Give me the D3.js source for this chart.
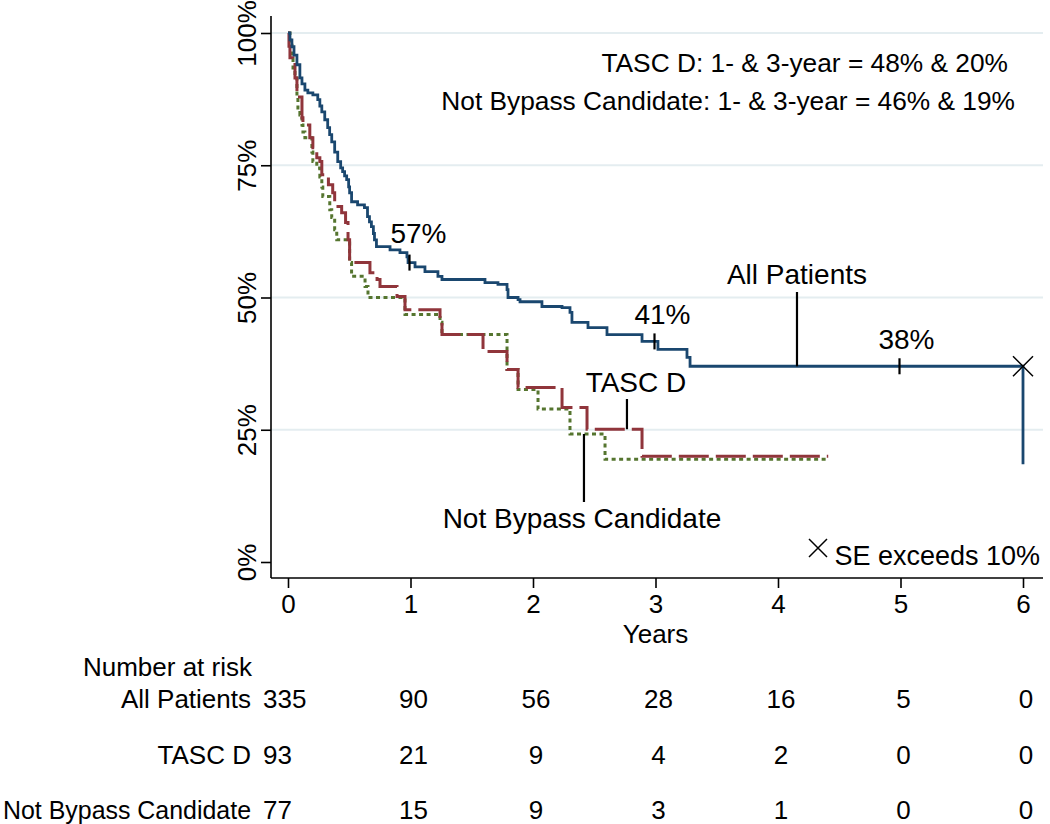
<!DOCTYPE html>
<html>
<head>
<meta charset="utf-8">
<script src="https://cdn.jsdelivr.net/npm/d3@7/dist/d3.min.js"></script>
<style>
  html, body { margin: 0; padding: 0; background: #fff; }
  svg { display: block; }
  text { font-family: "Liberation Sans", Arial, Helvetica, sans-serif; fill: #000; }
</style>
</head>
<body>
<svg id="chart" width="1050" height="824"></svg>
<script>
// ---------------- DATA ----------------
const yTicks = [0, 0.25, 0.5, 0.75, 1];
const yTickLabels = ["0%", "25%", "50%", "75%", "100%"];
const xTicks = [0, 1, 2, 3, 4, 5, 6];
const xTitle = "Years";

// All Patients: step times (years) and survival after each step
const allTimes = [0.016,0.032,0.049,0.073,0.097,0.114,0.138,0.162,0.203,0.243,0.260,0.276,0.300,0.324,0.340,0.357,0.381,0.406,0.430,0.446,0.462,0.479,0.495,0.503,0.519,0.568,0.624,0.649,0.665,0.681,0.697,0.706,0.722,0.833,0.914,0.971,0.980,1.037,1.118,1.224,1.257,1.608,1.714,1.788,1.796,1.878,1.894,2.073,2.237,2.302,2.318,2.449,2.604,2.890,3.020,3.257,3.282,6.0];
const allSurv  = [0.987,0.974,0.958,0.940,0.915,0.904,0.892,0.887,0.883,0.874,0.862,0.851,0.836,0.821,0.808,0.794,0.775,0.757,0.745,0.738,0.730,0.723,0.709,0.698,0.681,0.675,0.670,0.653,0.643,0.634,0.621,0.609,0.596,0.590,0.585,0.577,0.566,0.558,0.549,0.540,0.534,0.528,0.525,0.515,0.500,0.496,0.492,0.483,0.481,0.472,0.453,0.443,0.430,0.417,0.402,0.387,0.370,0.185];
const allEnd = 6.0;

// TASC D
const tascTimes = [0.008,0.016,0.041,0.057,0.073,0.081,0.114,0.122,0.178,0.203,0.235,0.260,0.276,0.330,0.365,0.381,0.438,0.470,0.490,0.503,0.669,0.727,0.751,0.890,0.955,1.241,1.257,1.592,1.788,1.878,2.237,2.441,2.890];
const tascSurv  = [0.975,0.953,0.945,0.915,0.889,0.879,0.840,0.826,0.802,0.783,0.764,0.757,0.732,0.713,0.698,0.672,0.660,0.642,0.609,0.566,0.547,0.534,0.521,0.502,0.477,0.453,0.430,0.398,0.364,0.330,0.292,0.251,0.200];
const tascEnd = 4.41;

// Not Bypass Candidate
const nbcTimes = [0.016,0.032,0.041,0.057,0.073,0.081,0.097,0.114,0.122,0.138,0.195,0.203,0.235,0.260,0.276,0.284,0.341,0.357,0.381,0.398,0.503,0.519,0.629,0.653,0.955,1.241,1.257,1.788,1.878,2.041,2.302,2.588];
const nbcSurv  = [0.977,0.953,0.934,0.915,0.877,0.858,0.845,0.826,0.813,0.802,0.775,0.757,0.745,0.728,0.709,0.691,0.666,0.651,0.628,0.609,0.566,0.540,0.521,0.500,0.468,0.453,0.430,0.364,0.326,0.289,0.242,0.194];
const nbcEnd = 4.41;

// Percent labels on All Patients curve
const markTimes = [1, 3, 5];
const markLabels = ["57%", "41%", "38%"];

// Number at risk
const riskGroups = ["All Patients", "TASC D", "Not Bypass Candidate"];
const riskAll  = [335, 90, 56, 28, 16, 5, 0];
const riskTasc = [93, 21, 9, 4, 2, 0, 0];
const riskNbc  = [77, 15, 9, 3, 1, 0, 0];

const noteLines = ["TASC D: 1- & 3-year = 48% & 20%", "Not Bypass Candidate: 1- & 3-year = 46% & 19%"];
const seNote = "SE exceeds 10%";

// ---------------- DRAW ----------------
const svg = d3.select("#chart");
const x = d3.scaleLinear().domain([0, 6]).range([288, 1023]);
const y = d3.scaleLinear().domain([0, 1]).range([562, 33]);
const plotLeft = 271, plotRight = 1043, plotTop = 16, plotBottom = 578;

// gridlines
svg.append("g").selectAll("line").data(yTicks.filter(d => d > 0)).join("line")
  .attr("x1", plotLeft).attr("x2", plotRight)
  .attr("y1", d => y(d)).attr("y2", d => y(d))
  .attr("stroke", "#e4edf0").attr("stroke-width", 2.2);

// y axis
const yAxis = d3.axisLeft(y).tickValues(yTicks).tickSize(10).tickSizeOuter(0)
  .tickFormat((d, i) => yTickLabels[i]);
const gy = svg.append("g").attr("transform", `translate(${plotLeft},0)`).call(yAxis);
gy.select(".domain").remove();
gy.selectAll(".tick line").attr("stroke", "#000").attr("stroke-width", 1.6);
gy.selectAll(".tick text")
  .attr("transform", "rotate(-90)")
  .attr("x", 0).attr("y", -15).attr("dy", 0)
  .attr("text-anchor", "middle")
  .style("font-size", "26px");
svg.append("line").attr("x1", plotLeft).attr("x2", plotLeft)
  .attr("y1", plotTop).attr("y2", plotBottom).attr("stroke", "#000").attr("stroke-width", 1.6);

// x axis
const xAxis = d3.axisBottom(x).tickValues(xTicks).tickSize(10).tickSizeOuter(0).tickFormat(d3.format("d"));
const gx = svg.append("g").attr("transform", `translate(0,${plotBottom})`).call(xAxis);
gx.select(".domain").remove();
gx.selectAll(".tick line").attr("stroke", "#000").attr("stroke-width", 1.6);
gx.selectAll(".tick text").attr("dy", 0).attr("y", 35).style("font-size", "26px");
svg.append("line").attr("x1", plotLeft).attr("x2", plotRight)
  .attr("y1", plotBottom).attr("y2", plotBottom).attr("stroke", "#000").attr("stroke-width", 1.6);
svg.append("text").attr("x", x(3)).attr("y", 643).attr("text-anchor", "middle")
  .style("font-size", "26px").text(xTitle);

// step curves
function stepPoints(times, surv, end) {
  const pts = [[0, 1]];
  times.forEach((t, i) => pts.push([t, surv[i]]));
  const last = times[times.length - 1];
  if (end > last) pts.push([end, surv[surv.length - 1]]);
  return pts;
}
const line = d3.line().x(d => x(d[0])).y(d => y(d[1])).curve(d3.curveStepAfter);

svg.append("path").datum(stepPoints(nbcTimes, nbcSurv, nbcEnd))
  .attr("d", line).attr("fill", "none").attr("stroke", "#55752f")
  .attr("stroke-width", 3).attr("stroke-dasharray", "4,3.5");
svg.append("path").datum(stepPoints(tascTimes, tascSurv, tascEnd))
  .attr("d", line).attr("fill", "none").attr("stroke", "#90353b")
  .attr("stroke-width", 3).attr("stroke-dasharray", "30,7");
svg.append("path").datum(stepPoints(allTimes, allSurv, allEnd))
  .attr("d", line).attr("fill", "none").attr("stroke", "#1a476f")
  .attr("stroke-width", 2.8);

// survival value at time t
function survAt(times, surv, t) {
  let s = 1;
  for (let i = 0; i < times.length; i++) { if (times[i] <= t) s = surv[i]; }
  return s;
}

// tick marks & percent labels on All Patients
const labelDx = [8, 7, 6];
const labelDy = [-20, -17, -17];
markTimes.forEach((t, i) => {
  const sy = y(survAt(allTimes, allSurv, t - 1e-6));
  svg.append("line").attr("x1", x(t) - 1).attr("x2", x(t) - 1)
    .attr("y1", sy - 8).attr("y2", sy + 8).attr("stroke", "#000").attr("stroke-width", 2.2);
  svg.append("text").attr("x", x(t) + labelDx[i]).attr("y", sy + labelDy[i])
    .attr("text-anchor", "middle").style("font-size", "28px").text(markLabels[i]);
});

// curve labels with pointer lines
function pointer(t, s, yEnd, label, textY) {
  svg.append("line").attr("x1", x(t)).attr("x2", x(t))
    .attr("y1", y(s)).attr("y2", yEnd).attr("stroke", "#000").attr("stroke-width", 2.2);
  svg.append("text").attr("x", x(t)).attr("y", textY)
    .attr("text-anchor", "middle").style("font-size", "28px").text(label);
}
pointer(4.155, survAt(allTimes, allSurv, 4.155), 292, "All Patients", 284);
svg.append("line").attr("x1", x(2.767)).attr("x2", x(2.767))
  .attr("y1", y(survAt(tascTimes, tascSurv, 2.767))).attr("y2", 399)
  .attr("stroke", "#000").attr("stroke-width", 2.2);
svg.append("text").attr("x", x(2.767) + 9).attr("y", 392)
  .attr("text-anchor", "middle").style("font-size", "28px").text("TASC D");
svg.append("line").attr("x1", x(2.416)).attr("x2", x(2.416))
  .attr("y1", y(survAt(nbcTimes, nbcSurv, 2.416))).attr("y2", 502)
  .attr("stroke", "#000").attr("stroke-width", 2.2);
svg.append("text").attr("x", x(2.416) - 2).attr("y", 528)
  .attr("text-anchor", "middle").style("font-size", "28px").text("Not Bypass Candidate");

// X marker where SE exceeds 10%
function xMark(cx, cy, r) {
  svg.append("path").attr("d", `M${cx - r},${cy - r}L${cx + r},${cy + r}M${cx - r},${cy + r}L${cx + r},${cy - r}`)
    .attr("stroke", "#000").attr("stroke-width", 1.5).attr("fill", "none");
}
xMark(x(6), y(0.37), 10);
xMark(818, 548, 9);
svg.append("text").attr("x", 1040).attr("y", 565).attr("text-anchor", "end")
  .style("font-size", "27px").text(seNote);

// notes top right
svg.append("text").attr("x", 1008).attr("y", 72).attr("text-anchor", "end")
  .style("font-size", "26.3px").text(noteLines[0]);
svg.append("text").attr("x", 1015).attr("y", 110).attr("text-anchor", "end")
  .style("font-size", "26.3px").text(noteLines[1]);

// Number at risk table
const riskFont = "26px";
svg.append("text").attr("x", 252).attr("y", 676).attr("text-anchor", "end")
  .style("font-size", riskFont).text("Number at risk");
const riskRows = [riskAll, riskTasc, riskNbc];
const rowY = [708, 764, 819];
riskRows.forEach((row, r) => {
  const lab = svg.append("text").attr("x", 251).attr("y", rowY[r]).attr("text-anchor", "end")
    .style("font-size", riskFont).text(riskGroups[r]);
  if (r === 2) lab.attr("textLength", 248).attr("lengthAdjust", "spacingAndGlyphs");
  row.forEach((v, i) => {
    svg.append("text").attr("x", i === 0 ? 263 : x(xTicks[i]) + 3).attr("y", rowY[r])
      .attr("text-anchor", i === 0 ? "start" : "middle")
      .style("font-size", riskFont).text(v);
  });
});
</script>
</body>
</html>
